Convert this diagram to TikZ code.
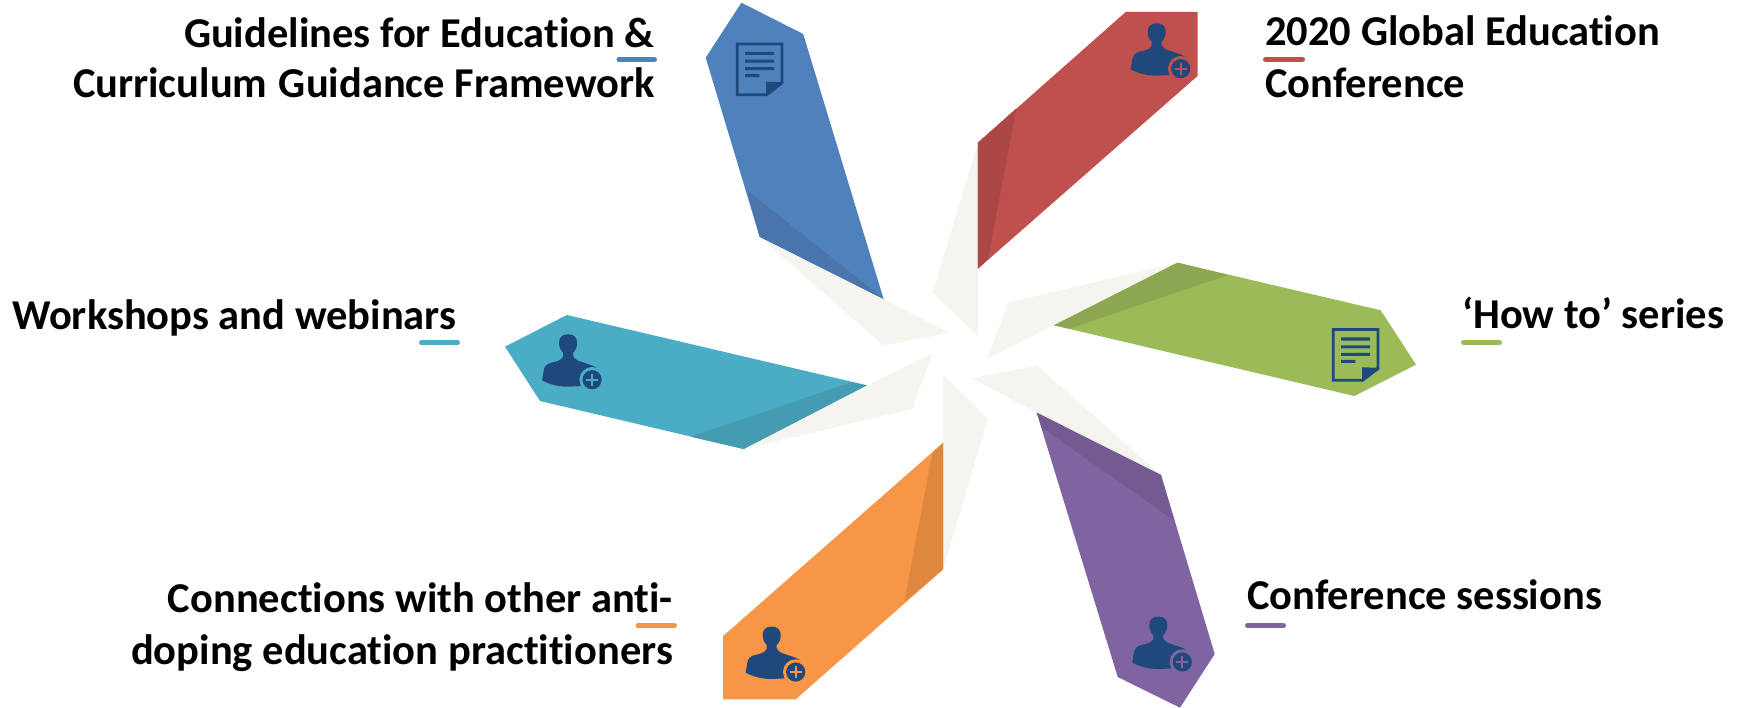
\documentclass[tikz,border=0pt]{standalone}
\usepackage{fontspec}
\setmainfont{Carlito}[Ligatures=NoCommon]
\definecolor{cblue}{HTML}{4F81BD}\definecolor{dblue}{HTML}{4A75AC}
\definecolor{cred}{HTML}{C0504D}\definecolor{dred}{HTML}{AC4745}
\definecolor{cgreen}{HTML}{9BBB59}\definecolor{dgreen}{HTML}{8CA651}
\definecolor{ccyan}{HTML}{4BACC6}\definecolor{dcyan}{HTML}{459BB1}
\definecolor{corange}{HTML}{F79646}\definecolor{dorange}{HTML}{DE873F}
\definecolor{cpurple}{HTML}{8064A2}\definecolor{dpurple}{HTML}{745A90}
\definecolor{cream}{HTML}{F5F4EE}\definecolor{icon}{HTML}{1F497D}
\tikzset{
  x=1pt,y=-1pt,
  ray/.style={fill=cream,draw=none},
  label text/.style={font=\fontsize{42.5}{52}\selectfont\bfseries,inner sep=0pt,text=black},
  bar/.style={line width=5pt,line cap=round},
  person/.pic={
    \fill[icon] (-24,-45.5) .. controls (-30,-45.5) and (-33,-42) .. (-33,-37)
      .. controls (-33,-33) and (-32,-30) .. (-29,-27) -- (-29,-23)
      .. controls (-31,-19) and (-36,-18) .. (-41,-17)
      .. controls (-46,-15.5) and (-48,-13) .. (-48.5,-9) -- (-50,0.7)
      .. controls (-42,5) and (-33,7) .. (-24,7) -- (-8,6.3) -- (4,-12)
      .. controls (0,-15) and (-6,-16) .. (-11,-18)
      .. controls (-15,-19) and (-18,-21) .. (-19,-24) -- (-19,-27)
      .. controls (-16,-30) and (-15,-33) .. (-15,-37)
      .. controls (-15,-42) and (-18,-45.5) .. (-24,-45.5) -- cycle;
    \fill[fill=#1] (0,0) circle[radius=12.7];
    \fill[icon] (0,0) circle[radius=9.6];
    \draw[#1,line width=2.2pt] (-6,0) -- (6,0) (0,-6) -- (0,6);
  },
  docicon/.pic={
    \draw[icon,line width=2.7pt,miter limit=10] (1.3,1.3) -- (46,1.3) -- (46,40) -- (30.7,52) -- (1.3,52) -- cycle;
    \fill[icon] (30,39) -- (47.3,39.5) -- (47.3,41) -- (30.7,53.3) -- (30,53.3) -- cycle;
    \fill[icon] (9,9.2) rectangle (38,12.2) (9,17) rectangle (38,20) (9,24.5) rectangle (38,27.5) (9,31.5) rectangle (23.3,34.5);
  }
}
\begin{document}
\begin{tikzpicture}
\useasboundingbox (0,0) rectangle (1747,708);
% cream rays
\fill[ray] (759.6,236.7) -- (883.6,299) -- (949.6,332.7) -- (883.6,345.7) -- cycle;
\fill[ray] (977.9,142.7) -- (977.9,336) -- (932.5,292.7) -- cycle;
\fill[ray] (1177.4,262.7) -- (1054,325.3) -- (987.3,358.7) -- (1008.3,302.5) -- cycle;
\fill[ray] (971.7,378.3) -- (1037.3,365.7) -- (1161,475) -- (1036.7,412.7) -- cycle;
\fill[ray] (943.2,375) -- (987.9,419) -- (943.2,569.3) -- cycle;
\fill[ray] (932.5,353.3) -- (912.1,409) -- (743.6,449) -- (866.8,385.3) -- cycle;
% blue
\fill[cblue] (741.4,2.7) -- (803.2,34) -- (883.6,299) -- (759.6,236.7) -- (705.7,57.7) -- cycle;
\fill[dblue] (746.8,190) -- (883.6,299) -- (759.6,236.7) -- cycle;
% red
\fill[cred] (1125.7,12) -- (1197.5,12) -- (1197.5,76) -- (977.9,268.7) -- (977.9,142.7) -- cycle;
\fill[dred] (1016.4,108.3) -- (987.9,259.3) -- (977.9,268.7) -- (977.9,142.7) -- cycle;
% green
\fill[cgreen] (1177.4,262.7) -- (1380.7,310.3) -- (1416,364.7) -- (1354.3,396) -- (1054,325.3) -- cycle;
\fill[dgreen] (1177.4,262.7) -- (1228.3,275) -- (1069.3,328.7) -- (1054,325.3) -- cycle;
% purple
\fill[cpurple] (1036.7,412.7) -- (1161,475) -- (1214.7,654) -- (1180,707.7) -- (1117.7,677) -- cycle;
\fill[dpurple] (1036.7,412.7) -- (1161,475) -- (1174.3,520.7) -- (1041.7,427.3) -- cycle;
% orange
\fill[corange] (943.2,442.7) -- (943.2,569.3) -- (795.7,699.3) -- (723.2,699.3) -- (723.2,636) -- cycle;
\fill[dorange] (932.5,452.3) -- (943.2,442.7) -- (943.2,569.3) -- (904.3,601.7) -- cycle;
% cyan
\fill[ccyan] (566.8,315) -- (866.8,385.3) -- (743.6,449) -- (540,401) -- (505,346.7) -- cycle;
\fill[dcyan] (866.8,385.3) -- (743.6,449) -- (690.7,436.7) -- (851.4,382.3) -- cycle;
% icons
\pic at (736,42.7) {docicon};
\pic at (1332,328.3) {docicon};
\pic at (1180.7,68.7) {person=cred};
\pic at (592.1,379.7) {person=ccyan};
\pic at (795.7,672) {person=corange};
\pic at (1182.3,662) {person=cpurple};
% labels
\node[label text,align=right,anchor=north east] (t1) at (655,17) {Guidelines for Education \&\\[-2pt]Curriculum\hspace{2pt} Guidance Framework};
\node[label text,align=left,anchor=north west] (t2) at (1265,15) {2020 Global Education\\Conference};
\node[label text,anchor=base west] (t3) at (12,329.3) {Workshops and webinars};
\node[label text,anchor=base west] (t4) at (1462,328) {‘How to’ series};
\node[label text,align=right,anchor=north east] (t5) at (673,582) {Connections with other anti-\\doping education practitioners};
\node[label text,anchor=base west] (t6) at (1247,609.3) {Conference sessions};
% bars
\draw[bar,cblue] (619,59.5) -- (654.5,59.5);
\draw[bar,cred] (1265.5,59.5) -- (1302.5,59.5);
\draw[bar,ccyan] (421.5,342.7) -- (457.5,342.7);
\draw[bar,cgreen] (1463.5,342.7) -- (1499.5,342.7);
\draw[bar,corange] (638,625.7) -- (674.5,625.7);
\draw[bar,cpurple] (1247.5,625.7) -- (1283.5,625.7);
\end{tikzpicture}
\end{document}
